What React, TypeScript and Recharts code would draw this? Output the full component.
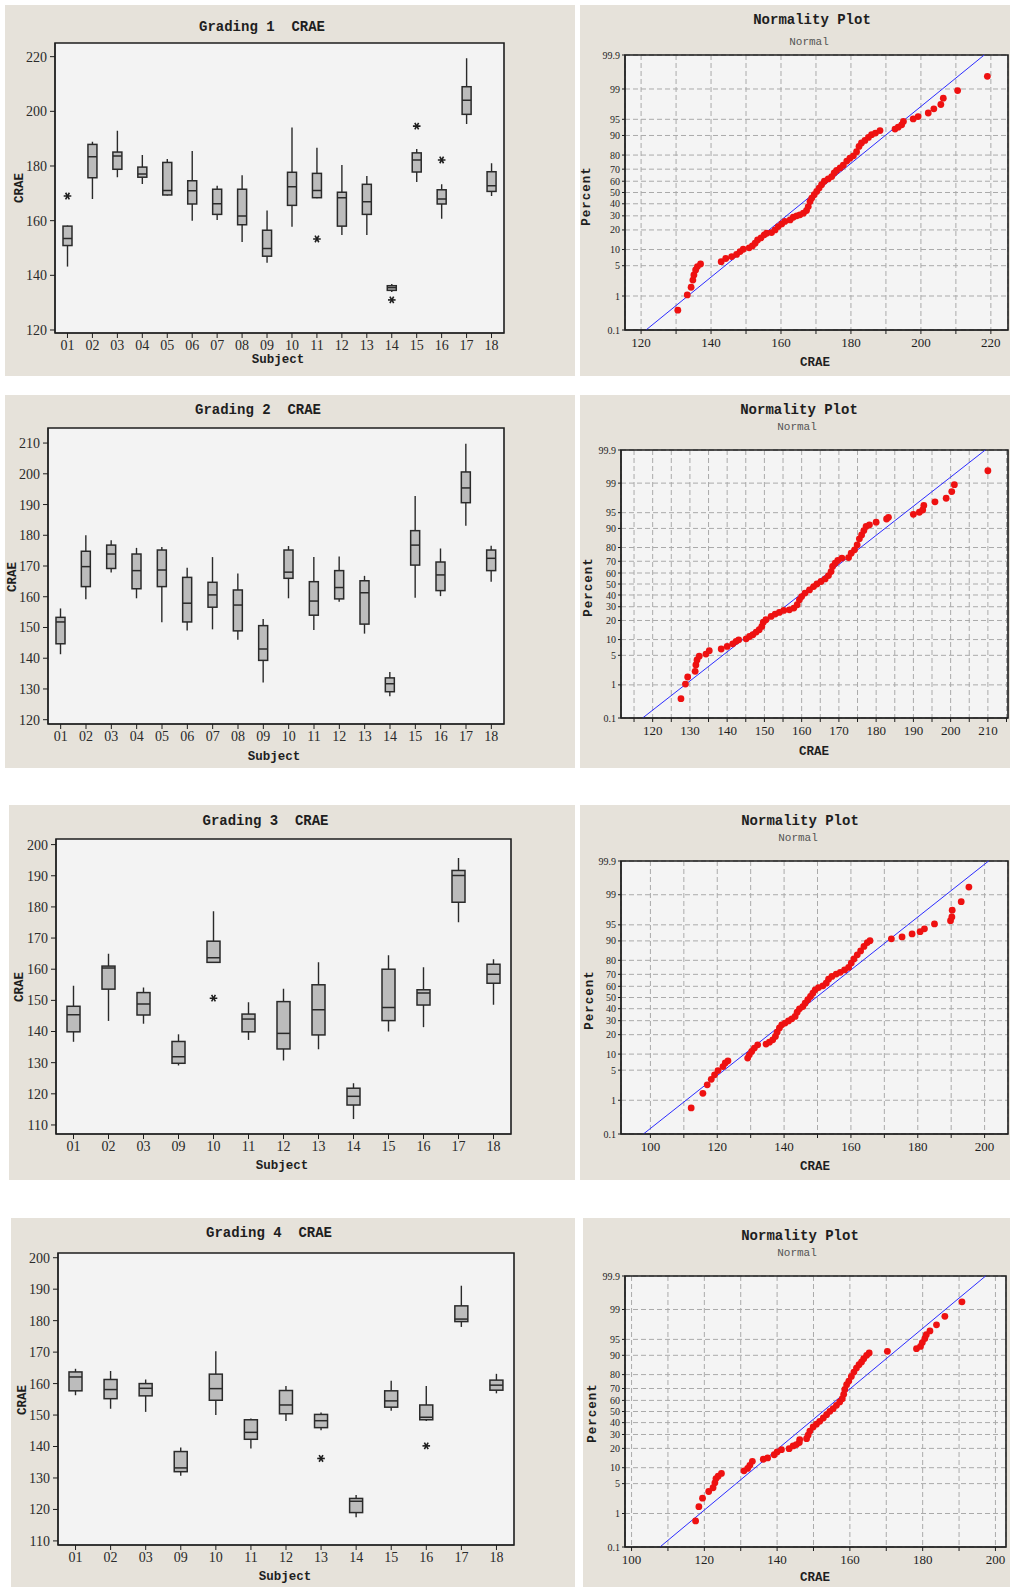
import {
  ComposedChart,
  ScatterChart,
  Bar,
  Scatter,
  XAxis,
  YAxis,
  CartesianGrid,
  ReferenceArea,
  ReferenceLine,
} from "recharts";

// ---------- box plot data ----------
const subjects18 = ["01", "02", "03", "04", "05", "06", "07", "08", "09", "10", "11", "12", "13", "14", "15", "16", "17", "18"];
const subjects13 = ["01", "02", "03", "09", "10", "11", "12", "13", "14", "15", "16", "17", "18"];

const g1Max = [158.2, 188.9, 192.9, 184.0, 182.6, 185.5, 172.8, 176.6, 163.7, 194.1, 186.7, 180.4, 176.3, 136.8, 186.2, 173.3, 219.4, 181.0];
const g1Q3 = [158.0, 187.9, 185.1, 179.6, 181.3, 174.6, 171.5, 171.5, 156.5, 177.7, 177.3, 170.4, 173.3, 136.2, 184.8, 171.3, 209.0, 177.9];
const g1Med = [153.5, 183.4, 183.7, 177.1, 171.0, 170.9, 166.2, 161.7, 149.8, 172.4, 171.0, 168.4, 166.9, 135.5, 182.2, 167.9, 204.1, 172.8];
const g1Q1 = [150.9, 175.7, 178.8, 175.9, 169.4, 166.1, 162.3, 158.5, 147.0, 165.6, 168.4, 158.0, 162.3, 134.5, 177.8, 166.1, 198.9, 170.7];
const g1Min = [143.2, 167.9, 175.9, 173.4, 169.2, 160.0, 160.2, 152.2, 144.6, 157.8, 168.2, 154.8, 154.8, 133.9, 174.1, 160.7, 195.4, 169.0];
const g1Out = [169.0, null, null, null, null, null, null, null, null, null, 153.3, null, null, 131.0, 194.6, 182.2, null, null];
const g1Ticks = [120, 140, 160, 180, 200, 220];

const g2Max = [156.2, 180.0, 178.4, 175.9, 176.2, 169.4, 172.9, 167.6, 152.8, 176.5, 172.9, 173.1, 166.8, 135.5, 192.8, 175.7, 209.8, 176.6];
const g2Q3 = [153.3, 174.8, 176.8, 173.9, 175.2, 166.3, 164.7, 162.2, 150.6, 175.2, 164.9, 168.5, 165.2, 133.6, 181.5, 171.3, 200.6, 175.2];
const g2Med = [151.8, 169.8, 173.9, 168.5, 168.7, 157.9, 160.6, 157.3, 143.0, 168.0, 158.6, 163.0, 161.3, 131.7, 176.8, 167.1, 195.4, 172.5];
const g2Q1 = [144.7, 163.3, 169.2, 162.6, 163.3, 151.8, 156.6, 148.9, 139.3, 166.0, 154.0, 159.3, 151.1, 129.1, 170.3, 162.0, 190.6, 168.5];
const g2Min = [141.3, 159.2, 167.9, 159.5, 151.7, 149.0, 149.4, 146.0, 132.1, 159.5, 149.2, 158.4, 148.0, 127.6, 159.7, 160.2, 183.1, 164.9];
const g2Out = subjects18.map(() => null);
const g2Ticks = [120, 130, 140, 150, 160, 170, 180, 190, 200, 210];

const g3Max = [154.7, 165.0, 154.1, 139.1, 178.6, 149.4, 153.7, 162.2, 123.4, 164.5, 160.6, 195.7, 163.2];
const g3Q3 = [148.1, 161.0, 152.5, 136.8, 169.0, 145.6, 149.6, 155.0, 121.8, 160.0, 153.4, 191.7, 161.6];
const g3Med = [145.4, 160.4, 148.8, 131.9, 163.7, 144.0, 139.4, 147.0, 119.2, 147.7, 152.4, 190.1, 158.4];
const g3Q1 = [139.9, 153.6, 145.3, 129.8, 162.2, 139.9, 134.4, 138.9, 116.4, 143.5, 148.5, 181.5, 155.5];
const g3Min = [136.7, 143.4, 142.5, 129.1, 162.0, 137.3, 130.7, 134.3, 111.9, 140.0, 141.4, 175.1, 148.6];
const g3Out = [null, null, null, null, 150.7, null, null, null, null, null, null, null, null];
const g3Ticks = [110, 120, 130, 140, 150, 160, 170, 180, 190, 200];

const g4Max = [164.7, 164.0, 161.3, 139.7, 170.3, 148.9, 159.2, 150.8, 124.6, 160.9, 159.2, 191.1, 163.1];
const g4Q3 = [163.7, 161.3, 160.0, 138.4, 163.0, 148.5, 157.8, 150.2, 123.5, 157.7, 153.2, 184.7, 161.1];
const g4Med = [162.1, 158.1, 158.5, 133.2, 158.4, 144.5, 153.2, 148.2, 122.6, 154.5, 149.3, 180.5, 159.5];
const g4Q1 = [157.7, 155.2, 156.1, 132.0, 154.7, 142.3, 150.4, 146.0, 119.0, 152.5, 148.5, 179.7, 157.9];
const g4Min = [156.3, 152.0, 151.0, 130.7, 150.0, 139.4, 148.1, 145.2, 117.5, 151.4, 148.1, 178.0, 156.9];
const g4Out = [null, null, null, null, null, null, null, 136.2, null, null, 140.2, null, null];
const g4Ticks = [110, 120, 130, 140, 150, 160, 170, 180, 190, 200];

// ---------- normality plot data (CRAE, percent) ----------
const pctTicks = [0.1, 1, 5, 10, 20, 30, 40, 50, 60, 70, 80, 90, 95, 99, 99.9];

const n1Crae = [130.5, 133.2, 134.3, 134.8, 135.1, 135.6, 136.1, 137.0, 142.9, 144.2, 145.9, 147.3, 148.3, 149.2, 150.9, 151.8, 152.6, 153.3, 154.3, 155.2, 155.9, 157.3, 158.3, 159.2, 160.2, 161.1, 162.6, 163.5, 164.5, 165.4, 166.4, 167.3, 167.8, 168.3, 168.8, 169.5, 170.2, 170.9, 171.6, 172.4, 173.5, 174.5, 175.2, 175.9, 176.9, 177.8, 178.8, 179.7, 180.7, 181.6, 182.3, 183.0, 184.0, 185.0, 185.9, 187.0, 188.3, 192.6, 193.5, 194.5, 195.0, 197.8, 199.2, 202.1, 203.7, 205.7, 206.4, 210.5, 219.0];
const n1Pct = [0.41, 1.07, 1.66, 2.45, 3.2, 4.1, 4.8, 5.4, 6.0, 6.9, 7.5, 8.2, 9.2, 10.1, 10.7, 11.5, 12.7, 14.3, 15.4, 17.1, 18.0, 18.4, 20.0, 22.2, 24.0, 25.8, 26.9, 28.9, 30.0, 30.8, 32.1, 34.3, 37.6, 42, 45, 48, 51, 54, 57, 60, 62, 64, 67, 69, 71, 73, 76, 78, 79.5, 82, 85, 86.7, 87.9, 89.2, 90.3, 90.9, 91.8, 92.3, 92.9, 93.6, 94.5, 95.1, 95.6, 96.3, 97.0, 97.6, 98.3, 98.9, 99.55];
const n1Fit = [121.4, 218.1];
const n1XTicks = [120, 130, 140, 150, 160, 170, 180, 190, 200, 210, 220];
const n1XLabels = [120, 140, 160, 180, 200, 220];

const n2Crae = [127.6, 128.8, 129.4, 131.4, 131.6, 131.9, 132.5, 134.3, 135.2, 138.4, 140.0, 141.5, 142.4, 143.1, 145.1, 146.0, 146.9, 147.8, 148.6, 149.3, 149.7, 150.4, 151.8, 152.9, 154.0, 155.2, 156.7, 157.9, 158.8, 159.4, 160.0, 160.9, 162.1, 163.2, 164.1, 165.2, 166.3, 167.2, 167.9, 168.3, 169.0, 169.7, 170.8, 172.6, 173.3, 174.2, 174.9, 175.5, 176.1, 176.7, 177.3, 178.2, 180.0, 182.8, 183.3, 190.0, 191.6, 192.5, 192.8, 195.8, 198.8, 200.3, 201.0, 210.0];
const n2Pct = [0.41, 1.05, 1.6, 2.2, 3.1, 4.0, 4.8, 5.3, 6.2, 6.7, 7.5, 8.4, 9.3, 9.9, 10.3, 11.3, 12.1, 13.4, 14.6, 16.4, 18.9, 20.5, 22.7, 24.4, 25.6, 27.1, 27.6, 28.9, 31.6, 35.8, 38.6, 41.7, 44.6, 47.6, 50, 52.3, 54.7, 57.7, 61.3, 65.7, 68.4, 70.6, 72.4, 72.9, 76.1, 78.5, 81.6, 85.1, 87.1, 89.1, 90.8, 91.4, 92.3, 93.3, 93.8, 94.6, 95.1, 95.6, 96.5, 97.1, 97.6, 98.35, 98.9, 99.55];
const n2Fit = [117.3, 209.3];
const n2XTicks = [115, 120, 125, 130, 135, 140, 145, 150, 155, 160, 165, 170, 175, 180, 185, 190, 195, 200, 205, 210, 215];
const n2XLabels = [120, 130, 140, 150, 160, 170, 180, 190, 200, 210];

const n3Crae = [112.2, 115.7, 117.0, 118.2, 119.2, 120.2, 121.7, 122.4, 123.2, 129.1, 129.6, 130.3, 131.1, 132.1, 134.6, 135.6, 136.6, 137.4, 137.9, 138.6, 139.3, 140.3, 141.3, 142.3, 143.3, 143.9, 144.6, 145.6, 146.3, 147.1, 147.9, 148.6, 149.3, 150.3, 151.6, 152.6, 153.3, 154.3, 155.6, 156.8, 158.1, 159.3, 160.1, 160.9, 161.9, 162.9, 163.9, 164.9, 165.7, 172.1, 175.3, 178.3, 180.7, 182.0, 185.0, 189.8, 190.2, 190.3, 193.0, 195.3];
const n3Pct = [0.62, 1.5, 2.4, 3.2, 4.0, 4.9, 5.9, 6.9, 7.6, 8.5, 9.7, 11.1, 12.6, 14.2, 14.6, 15.6, 16.9, 18.9, 21.6, 24.5, 26.8, 28.1, 29.8, 31.5, 33.4, 37.0, 39.9, 41.9, 44.8, 48, 50.9, 53.9, 56.9, 58.9, 60.4, 62.7, 66.1, 68.3, 70.2, 71.6, 73.4, 75.2, 78.2, 80.9, 83.3, 85.4, 87.6, 89.3, 90.1, 90.8, 91.5, 92.5, 93.2, 94.0, 95.2, 95.9, 96.6, 97.6, 98.5, 99.38];
const n3Fit = [97.9, 201.2];
const n3XTicks = [100, 110, 120, 130, 140, 150, 160, 170, 180, 190, 200];
const n3XLabels = [100, 120, 140, 160, 180, 200];

const n4Crae = [117.6, 118.5, 119.5, 121.2, 122.4, 122.9, 123.2, 123.8, 124.7, 130.9, 131.9, 132.5, 133.2, 136.2, 137.4, 139.2, 140.0, 141.2, 143.3, 144.4, 145.3, 146.1, 146.2, 148.1, 148.5, 149.0, 149.9, 150.8, 151.7, 152.7, 153.6, 154.5, 155.4, 156.3, 157.2, 157.9, 158.3, 158.6, 159.1, 159.7, 160.4, 161.1, 161.8, 162.5, 163.2, 163.8, 164.6, 165.3, 170.3, 178.3, 179.4, 179.9, 180.6, 181.0, 182.0, 183.8, 186.1, 190.8];
const n4Pct = [0.63, 1.5, 2.4, 3.4, 4.1, 5.2, 6.3, 7.0, 7.9, 8.8, 9.7, 11.0, 12.8, 13.8, 14.5, 16.2, 17.8, 19.2, 19.8, 21.6, 22.5, 23.9, 26.1, 26.8, 29.4, 32.8, 36.2, 38.6, 41.1, 44.1, 47.1, 50.2, 52.6, 55.6, 58.6, 61.5, 65.2, 69.3, 72.9, 75.6, 78.8, 81.6, 83.9, 85.7, 87.1, 88.6, 90.0, 90.9, 91.5, 92.4, 93.1, 94.2, 95.2, 96.0, 96.7, 97.6, 98.5, 99.38];
const n4Fit = [107.8, 197.3];
const n4XTicks = [100, 110, 120, 130, 140, 150, 160, 170, 180, 190, 200];
const n4XLabels = [100, 120, 140, 160, 180, 200];

// ---------- helpers ----------
const SERIF = "'Liberation Serif', 'DejaVu Serif', serif";
const MONO = "'Liberation Mono', 'DejaVu Sans Mono', monospace";
const PANEL_BG = "#e6e2da";
const PLOT_BG = "#f3f3f3";
const INK = "#1e1e1e";

// inverse normal CDF (Acklam) for the probability axis
function probit(p: number) {
  const a = [-39.69683028665376, 220.9460984245205, -275.9285104469687, 138.357751867269, -30.66479806614716, 2.506628277459239];
  const b = [-54.47609879822406, 161.5858368580409, -155.6989798598866, 66.80131188771972, -13.28068155288572];
  const c = [-0.007784894002430293, -0.3223964580411365, -2.400758276161838, -2.549732539343734, 4.374664141464968, 2.938163982698783];
  const d = [0.007784695709041462, 0.3224671290700398, 2.445134137142996, 3.754408661907416];
  const lo = 0.02425;
  if (p < lo) {
    const q = Math.sqrt(-2 * Math.log(p));
    return (((((c[0] * q + c[1]) * q + c[2]) * q + c[3]) * q + c[4]) * q + c[5]) / ((((d[0] * q + d[1]) * q + d[2]) * q + d[3]) * q + 1);
  }
  if (p > 1 - lo) {
    const q = Math.sqrt(-2 * Math.log(1 - p));
    return -(((((c[0] * q + c[1]) * q + c[2]) * q + c[3]) * q + c[4]) * q + c[5]) / ((((d[0] * q + d[1]) * q + d[2]) * q + d[3]) * q + 1);
  }
  const q = p - 0.5;
  const r = q * q;
  return ((((((a[0] * r + a[1]) * r + a[2]) * r + a[3]) * r + a[4]) * r + a[5]) * q) / (((((b[0] * r + b[1]) * r + b[2]) * r + b[3]) * r + b[4]) * r + 1);
}

const Z_MIN = probit(0.001);
const Z_MAX = probit(0.999);
const zTicks = pctTicks.map((p) => probit(p / 100));
const pctLabel = (v: number) => {
  let best = 0;
  zTicks.forEach((z, i) => {
    if (Math.abs(z - v) < Math.abs(zTicks[best] - v)) best = i;
  });
  return String(pctTicks[best]);
};

type Rect = { x: number; y: number; w: number; h: number };
type Plot = { l: number; t: number; r: number; b: number };
type Pt = [number, number];

function Txt(props: { at: Pt; text: string; size: number; bold?: boolean; rotate?: boolean; color?: string; family?: string; spacing?: number }) {
  const { at, text, size, bold, rotate, color, family, spacing } = props;
  return (
    <div
      style={{
        position: "absolute",
        left: at[0],
        top: at[1],
        transform: `translate(-50%, -50%)${rotate ? " rotate(-90deg)" : ""}`,
        whiteSpace: "pre",
        fontSize: size,
        fontWeight: bold ? 700 : 400,
        fontFamily: family ?? MONO,
        color: color ?? INK,
        letterSpacing: spacing ?? 0,
        lineHeight: 1,
      }}
    >
      {text}
    </div>
  );
}

function margins(panel: Rect, plot: Plot, yw: number, xh: number) {
  return {
    top: plot.t - panel.y,
    left: plot.l - panel.x - yw,
    right: panel.x + panel.w - plot.r,
    bottom: panel.y + panel.h - plot.b - xh,
  };
}

// outlier marker: horizontal bar crossed by two diagonals
function Asterisk({ cx, cy }: { cx: number; cy: number }) {
  const r = 3.8;
  const angs = [0, 60, 120];
  return (
    <g stroke={INK} strokeWidth={1.6}>
      {angs.map((a) => {
        const dx = r * Math.cos((a * Math.PI) / 180);
        const dy = r * Math.sin((a * Math.PI) / 180);
        return <line key={a} x1={cx - dx} y1={cy - dy} x2={cx + dx} y2={cy + dy} />;
      })}
    </g>
  );
}

function BoxShape(props: any) {
  const { x, y, width, height, payload } = props;
  if (!payload) return null;
  const top = Math.min(y, y + height);
  const h = Math.abs(height);
  const span = payload.max - payload.min || 1;
  const py = (v: number) => top + (h * (payload.max - v)) / span;
  const cx = x + width / 2;
  return (
    <g>
      <line x1={cx} x2={cx} y1={py(payload.max)} y2={py(payload.q3)} stroke="#2a2a2a" strokeWidth={1.4} />
      <line x1={cx} x2={cx} y1={py(payload.q1)} y2={py(payload.min)} stroke="#2a2a2a" strokeWidth={1.4} />
      <rect x={x} y={py(payload.q3)} width={width} height={Math.max(py(payload.q1) - py(payload.q3), 1)} fill="#bcbcbc" stroke="#2a2a2a" strokeWidth={1.5} />
      <line x1={x} x2={x + width} y1={py(payload.med)} y2={py(payload.med)} stroke="#2a2a2a" strokeWidth={1.5} />
      {payload.out != null && <Asterisk cx={cx} cy={py(payload.out)} />}
    </g>
  );
}

type BoxCfg = {
  panel: Rect;
  plot: Plot;
  subjects: string[];
  max: number[];
  q3: number[];
  med: number[];
  q1: number[];
  min: number[];
  out: (number | null)[];
  ticks: number[];
  domain: [number, number];
  barSize: number;
  title: string;
  titleAt: Pt;
  xLabelAt: Pt;
  yLabelAt: Pt;
};

function BoxPanel({ cfg }: { cfg: BoxCfg }) {
  const rows = cfg.subjects.map((s, i) => ({
    subject: s,
    range: [cfg.min[i], cfg.max[i]],
    max: cfg.max[i],
    q3: cfg.q3[i],
    med: cfg.med[i],
    q1: cfg.q1[i],
    min: cfg.min[i],
    out: cfg.out[i],
  }));
  const { panel } = cfg;
  const tick = { fontSize: 14, fill: "#2a2a2a", fontFamily: SERIF };
  return (
    <>
      <div style={{ position: "absolute", left: panel.x, top: panel.y, width: panel.w, height: panel.h, background: PANEL_BG }}>
        <ComposedChart width={panel.w} height={panel.h} data={rows} margin={margins(panel, cfg.plot, 36, 25)}>
          <CartesianGrid horizontal={false} vertical={false} fill={PLOT_BG} />
          <XAxis dataKey="subject" type="category" height={25} interval={0} tick={tick} tickSize={5} tickMargin={2} axisLine={{ stroke: INK }} tickLine={{ stroke: INK }} />
          <YAxis type="number" domain={cfg.domain} ticks={cfg.ticks} allowDataOverflow interval={0} width={36} tick={tick} tickSize={5} tickMargin={3} axisLine={{ stroke: INK }} tickLine={{ stroke: INK }} />
          <Bar dataKey="range" barSize={cfg.barSize} shape={BoxShape} isAnimationActive={false} />
          <ReferenceArea y1={cfg.domain[0]} y2={cfg.domain[1]} fill="none" stroke={INK} strokeWidth={1.6} ifOverflow="visible" />
        </ComposedChart>
      </div>
      <Txt at={cfg.titleAt} text={cfg.title} size={14} bold />
      <Txt at={cfg.xLabelAt} text="Subject" size={12.5} bold />
      <Txt at={cfg.yLabelAt} text="CRAE" size={12.5} bold rotate />
    </>
  );
}

type NormCfg = {
  panel: Rect;
  plot: Plot;
  crae: number[];
  pct: number[];
  fit: number[];
  xDomain: [number, number];
  xTicks: number[];
  xLabels: number[];
  titleAt: Pt;
  subAt: Pt;
  xLabelAt: Pt;
  yLabelAt: Pt;
};

function Dot(props: any) {
  const { cx, cy } = props;
  if (cx == null || cy == null) return null;
  return <circle cx={cx} cy={cy} r={3.4} fill="#ee1111" />;
}

function NormPanel({ cfg }: { cfg: NormCfg }) {
  const n = Math.min(cfg.crae.length, cfg.pct.length);
  const pts = cfg.crae.slice(0, n).map((x, i) => ({ x, z: probit(cfg.pct[i] / 100) }));
  const { panel } = cfg;
  return (
    <>
      <div style={{ position: "absolute", left: panel.x, top: panel.y, width: panel.w, height: panel.h, background: PANEL_BG }}>
        <ScatterChart width={panel.w} height={panel.h} margin={margins(panel, cfg.plot, 30, 25)}>
          <CartesianGrid fill="#f4f4f4" stroke="#aaaaaa" strokeDasharray="5 3" />
          <XAxis
            type="number"
            dataKey="x"
            domain={cfg.xDomain}
            ticks={cfg.xTicks}
            allowDataOverflow
            interval={0}
            height={25}
            tickFormatter={(v: number) => (cfg.xLabels.includes(v) ? String(v) : "")}
            tick={{ fontSize: 13, fill: INK, fontFamily: SERIF }}
            tickSize={4}
            tickMargin={4}
            axisLine={{ stroke: INK }}
            tickLine={{ stroke: INK }}
          />
          <YAxis
            type="number"
            dataKey="z"
            domain={[Z_MIN, Z_MAX]}
            ticks={zTicks}
            allowDataOverflow
            interval={0}
            width={30}
            tickFormatter={pctLabel}
            tick={{ fontSize: 10, fill: INK, fontFamily: SERIF }}
            tickSize={3}
            tickMargin={2}
            axisLine={{ stroke: INK }}
            tickLine={{ stroke: INK }}
          />
          <ReferenceLine
            segment={[
              { x: cfg.fit[0], y: Z_MIN },
              { x: cfg.fit[1], y: Z_MAX },
            ]}
            stroke="#2b2bff"
            strokeWidth={1}
            ifOverflow="visible"
          />
          <Scatter data={pts} shape={Dot} isAnimationActive={false} />
          <ReferenceArea x1={cfg.xDomain[0]} x2={cfg.xDomain[1]} y1={Z_MIN} y2={Z_MAX} fill="none" stroke={INK} strokeWidth={1.6} ifOverflow="visible" />
        </ScatterChart>
      </div>
      <Txt at={cfg.titleAt} text="Normality Plot" size={14} bold />
      <Txt at={cfg.subAt} text="Normal" size={11} color="#555" />
      <Txt at={cfg.xLabelAt} text="CRAE" size={12.5} bold />
      <Txt at={cfg.yLabelAt} text="Percent" size={12.5} bold rotate spacing={1} />
    </>
  );
}

const boxes: BoxCfg[] = [
  {
    panel: { x: 5, y: 5, w: 570, h: 371 },
    plot: { l: 55, t: 43, r: 504, b: 333 },
    subjects: subjects18, max: g1Max, q3: g1Q3, med: g1Med, q1: g1Q1, min: g1Min, out: g1Out,
    ticks: g1Ticks, domain: [118.9, 225], barSize: 9,
    title: "Grading 1  CRAE", titleAt: [262, 27], xLabelAt: [278, 360], yLabelAt: [20, 188],
  },
  {
    panel: { x: 5, y: 395, w: 570, h: 373 },
    plot: { l: 48, t: 428, r: 504, b: 724 },
    subjects: subjects18, max: g2Max, q3: g2Q3, med: g2Med, q1: g2Q1, min: g2Min, out: g2Out,
    ticks: g2Ticks, domain: [118.6, 214.9], barSize: 9,
    title: "Grading 2  CRAE", titleAt: [258, 410], xLabelAt: [274, 757], yLabelAt: [13, 577],
  },
  {
    panel: { x: 9, y: 805, w: 566, h: 375 },
    plot: { l: 56, t: 839, r: 511, b: 1134 },
    subjects: subjects13, max: g3Max, q3: g3Q3, med: g3Med, q1: g3Q1, min: g3Min, out: g3Out,
    ticks: g3Ticks, domain: [107.1, 201.8], barSize: 13,
    title: "Grading 3  CRAE", titleAt: [265.5, 821], xLabelAt: [282, 1166], yLabelAt: [20, 987],
  },
  {
    panel: { x: 11, y: 1218, w: 564, h: 369 },
    plot: { l: 58, t: 1253, r: 514, b: 1545 },
    subjects: subjects13, max: g4Max, q3: g4Q3, med: g4Med, q1: g4Q1, min: g4Min, out: g4Out,
    ticks: g4Ticks, domain: [108.7, 201.5], barSize: 13,
    title: "Grading 4  CRAE", titleAt: [269, 1233], xLabelAt: [285, 1577], yLabelAt: [23, 1400],
  },
];

const norms: NormCfg[] = [
  {
    panel: { x: 580, y: 5, w: 430, h: 371 },
    plot: { l: 625, t: 55, r: 1008, b: 330 },
    crae: n1Crae, pct: n1Pct, fit: n1Fit, xDomain: [115.4, 224.9], xTicks: n1XTicks, xLabels: n1XLabels,
    titleAt: [812, 20], subAt: [809, 42], xLabelAt: [815, 363], yLabelAt: [587, 196],
  },
  {
    panel: { x: 580, y: 395, w: 430, h: 373 },
    plot: { l: 621, t: 450, r: 1008, b: 718 },
    crae: n2Crae, pct: n2Pct, fit: n2Fit, xDomain: [111.5, 215.4], xTicks: n2XTicks, xLabels: n2XLabels,
    titleAt: [799, 410], subAt: [797, 427], xLabelAt: [814, 752], yLabelAt: [589, 587],
  },
  {
    panel: { x: 580, y: 805, w: 430, h: 375 },
    plot: { l: 621, t: 861, r: 1008, b: 1134 },
    crae: n3Crae, pct: n3Pct, fit: n3Fit, xDomain: [91.2, 207], xTicks: n3XTicks, xLabels: n3XLabels,
    titleAt: [800, 821], subAt: [798, 838], xLabelAt: [815, 1167], yLabelAt: [590, 1000],
  },
  {
    panel: { x: 583, y: 1218, w: 427, h: 369 },
    plot: { l: 625, t: 1276, r: 1006, b: 1547 },
    crae: n4Crae, pct: n4Pct, fit: n4Fit, xDomain: [98.2, 202.9], xTicks: n4XTicks, xLabels: n4XLabels,
    titleAt: [800, 1236], subAt: [797, 1253], xLabelAt: [815, 1578], yLabelAt: [593, 1413],
  },
];

export default function App() {
  return (
    <div style={{ position: "absolute", left: 0, top: 0, width: 1010, height: 1587, background: "#fff", overflow: "hidden" }}>
      {boxes.map((b, i) => (
        <BoxPanel key={`b${i}`} cfg={b} />
      ))}
      {norms.map((n, i) => (
        <NormPanel key={`n${i}`} cfg={n} />
      ))}
    </div>
  );
}
